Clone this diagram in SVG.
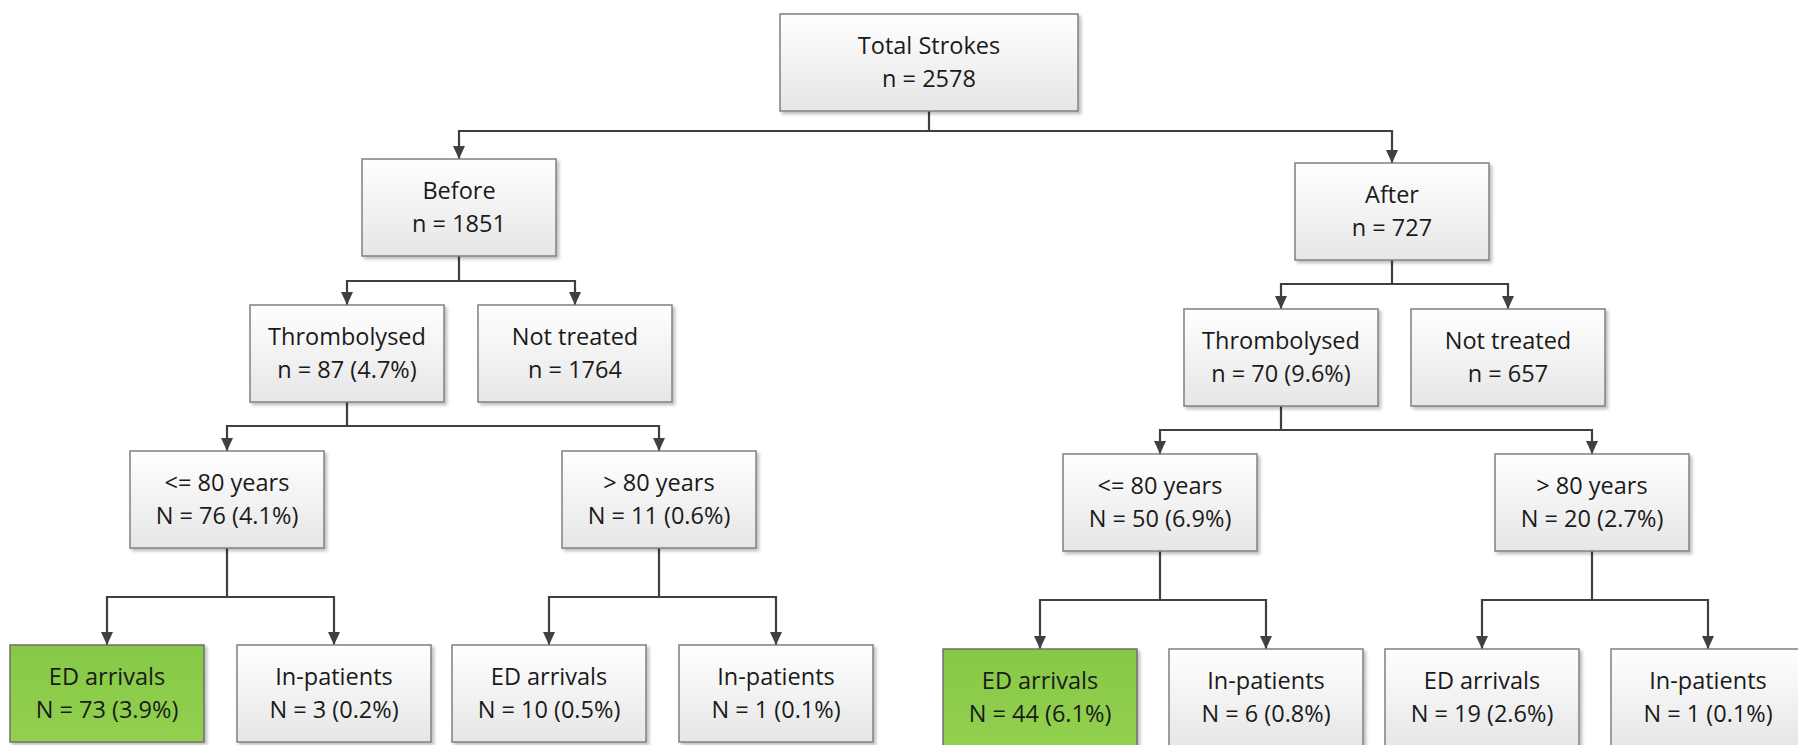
<svg xmlns="http://www.w3.org/2000/svg" width="1798" height="745" viewBox="0 0 1798 745">
<defs>
<linearGradient id="gGray" x1="0" y1="0" x2="0" y2="1">
<stop offset="0" stop-color="#ffffff"/>
<stop offset="1" stop-color="#e6e6e6"/>
</linearGradient>
<linearGradient id="gGreen" x1="0" y1="0" x2="0" y2="1">
<stop offset="0" stop-color="#86c946"/>
<stop offset="1" stop-color="#92d050"/>
</linearGradient>
<filter id="sh" x="-10%" y="-10%" width="125%" height="130%">
<feDropShadow dx="2.5" dy="2.5" stdDeviation="1.5" flood-color="#000" flood-opacity="0.25"/>
</filter>
<marker id="arr" markerUnits="userSpaceOnUse" markerWidth="14" markerHeight="14" refX="13" refY="7" orient="auto">
<path d="M0,1 L13,7 L0,13 z" fill="#404040"/>
</marker>
</defs>
<style>
.box{fill:url(#gGray);stroke:#808080;stroke-width:1.5;filter:url(#sh)}
.green{fill:url(#gGreen);stroke:#6f6f6f;stroke-width:1.5;filter:url(#sh)}
.t{font-family:"Open Sans","Liberation Sans",sans-serif;font-size:23.5px;fill:#1a1a1a;text-anchor:middle}
.c{fill:none;stroke:#404040;stroke-width:2.2;marker-end:url(#arr)}
</style>
<rect width="1798" height="745" fill="#ffffff"/>
<g id="connectors">
<path class="c" d="M929,111 V131 H459 V159"/>
<path class="c" d="M929,131 H1392 V163"/>
<path class="c" d="M459,256 V281 H347 V305"/>
<path class="c" d="M459,281 H575 V305"/>
<path class="c" d="M1392,260 V284 H1281 V309"/>
<path class="c" d="M1392,284 H1508 V309"/>
<path class="c" d="M347,402 V426 H227 V451"/>
<path class="c" d="M347,426 H659 V451"/>
<path class="c" d="M1281,406 V430 H1160 V454"/>
<path class="c" d="M1281,430 H1592 V454"/>
<path class="c" d="M227,548 V597 H107 V645"/>
<path class="c" d="M227,597 H334 V645"/>
<path class="c" d="M659,548 V597 H549 V645"/>
<path class="c" d="M659,597 H776 V645"/>
<path class="c" d="M1160,551 V600 H1040 V649"/>
<path class="c" d="M1160,600 H1266 V649"/>
<path class="c" d="M1592,551 V600 H1482 V649"/>
<path class="c" d="M1592,600 H1708 V649"/>
</g>
<g id="n-total"><rect class="box" x="780" y="14" width="298" height="97"/><text class="t" x="929" y="54">Total Strokes</text><text class="t" x="929" y="87">n = 2578</text></g>
<g id="n-before"><rect class="box" x="362" y="159" width="194" height="97"/><text class="t" x="459" y="199">Before</text><text class="t" x="459" y="232">n = 1851</text></g>
<g id="n-after"><rect class="box" x="1295" y="163" width="194" height="97"/><text class="t" x="1392" y="203">After</text><text class="t" x="1392" y="236">n = 727</text></g>
<g id="n-thromb-before"><rect class="box" x="250" y="305" width="194" height="97"/><text class="t" x="347" y="345">Thrombolysed</text><text class="t" x="347" y="378">n = 87 (4.7%)</text></g>
<g id="n-nottreated-before"><rect class="box" x="478" y="305" width="194" height="97"/><text class="t" x="575" y="345">Not treated</text><text class="t" x="575" y="378">n = 1764</text></g>
<g id="n-thromb-after"><rect class="box" x="1184" y="309" width="194" height="97"/><text class="t" x="1281" y="349">Thrombolysed</text><text class="t" x="1281" y="382">n = 70 (9.6%)</text></g>
<g id="n-nottreated-after"><rect class="box" x="1411" y="309" width="194" height="97"/><text class="t" x="1508" y="349">Not treated</text><text class="t" x="1508" y="382">n = 657</text></g>
<g id="n-le80-before"><rect class="box" x="130" y="451" width="194" height="97"/><text class="t" x="227" y="491">&lt;= 80 years</text><text class="t" x="227" y="524">N = 76 (4.1%)</text></g>
<g id="n-gt80-before"><rect class="box" x="562" y="451" width="194" height="97"/><text class="t" x="659" y="491">&gt; 80 years</text><text class="t" x="659" y="524">N = 11 (0.6%)</text></g>
<g id="n-le80-after"><rect class="box" x="1063" y="454" width="194" height="97"/><text class="t" x="1160" y="494">&lt;= 80 years</text><text class="t" x="1160" y="527">N = 50 (6.9%)</text></g>
<g id="n-gt80-after"><rect class="box" x="1495" y="454" width="194" height="97"/><text class="t" x="1592" y="494">&gt; 80 years</text><text class="t" x="1592" y="527">N = 20 (2.7%)</text></g>
<g id="n-ed-le80-before"><rect class="green" x="10" y="645" width="194" height="97"/><text class="t" x="107" y="685">ED arrivals</text><text class="t" x="107" y="718">N = 73 (3.9%)</text></g>
<g id="n-in-le80-before"><rect class="box" x="237" y="645" width="194" height="97"/><text class="t" x="334" y="685">In-patients</text><text class="t" x="334" y="718">N = 3 (0.2%)</text></g>
<g id="n-ed-gt80-before"><rect class="box" x="452" y="645" width="194" height="97"/><text class="t" x="549" y="685">ED arrivals</text><text class="t" x="549" y="718">N = 10 (0.5%)</text></g>
<g id="n-in-gt80-before"><rect class="box" x="679" y="645" width="194" height="97"/><text class="t" x="776" y="685">In-patients</text><text class="t" x="776" y="718">N = 1 (0.1%)</text></g>
<g id="n-ed-le80-after"><rect class="green" x="943" y="649" width="194" height="97"/><text class="t" x="1040" y="689">ED arrivals</text><text class="t" x="1040" y="722">N = 44 (6.1%)</text></g>
<g id="n-in-le80-after"><rect class="box" x="1169" y="649" width="194" height="97"/><text class="t" x="1266" y="689">In-patients</text><text class="t" x="1266" y="722">N = 6 (0.8%)</text></g>
<g id="n-ed-gt80-after"><rect class="box" x="1385" y="649" width="194" height="97"/><text class="t" x="1482" y="689">ED arrivals</text><text class="t" x="1482" y="722">N = 19 (2.6%)</text></g>
<g id="n-in-gt80-after"><rect class="box" x="1611" y="649" width="194" height="97"/><text class="t" x="1708" y="689">In-patients</text><text class="t" x="1708" y="722">N = 1 (0.1%)</text></g>
</svg>
